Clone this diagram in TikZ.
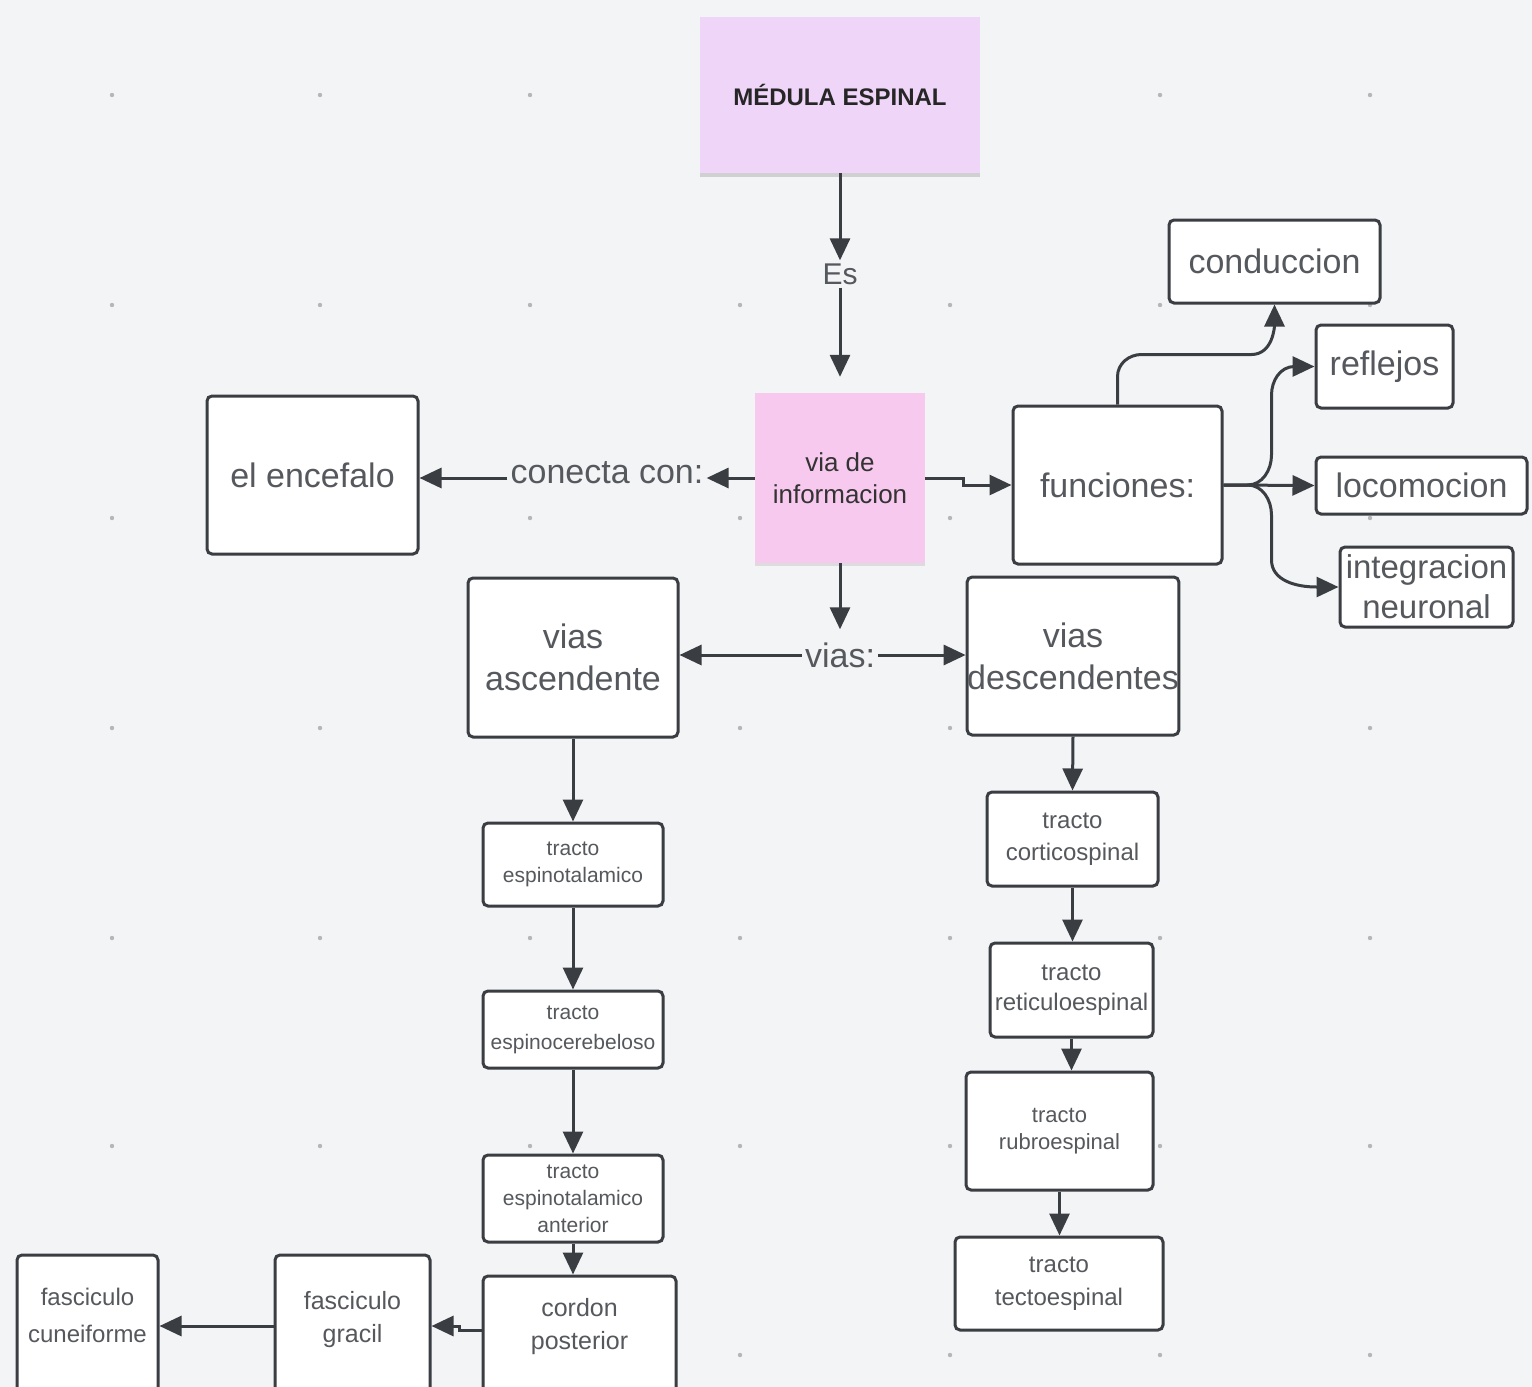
\documentclass[tikz,border=0pt]{standalone}
\usepackage{fontspec}
\setmainfont{Liberation Sans}
\usetikzlibrary{arrows.meta,shadows,calc}
\definecolor{bg}{HTML}{F3F4F6}
\definecolor{dotc}{HTML}{B4B6BA}
\definecolor{edge}{HTML}{3A3D42}
\definecolor{txt}{HTML}{55585C}
\definecolor{lav}{HTML}{EFD6F8}
\definecolor{pinkv}{HTML}{F7C9EF}
\newcommand\upbox[2]{\raisebox{#1}[0pt][0pt]{\begin{tabular}{@{}c@{}}#2\end{tabular}}}
\tikzset{
  box/.style={draw=edge, line width=3pt, rounded corners=5pt, fill=white, inner sep=0pt, align=center, text=txt},
  big/.style={font=\fontsize{34}{42}\selectfont},
  mid/.style={font=\fontsize{26}{32}\selectfont},
  sml/.style={font=\fontsize{22}{27}\selectfont},
  lbl/.style={text=txt, inner sep=3pt, font=\fontsize{34}{40}\selectfont},
  arr/.style={draw=edge, line width=3pt, -{Triangle[length=22pt,width=20pt]}},
  sticky/.style={inner sep=0pt, align=center, draw=none}
}
\begin{document}
\begin{tikzpicture}[x=1pt,y=-1pt]
\useasboundingbox (0,0) rectangle (1532,1387);
\fill[bg] (0,0) rectangle (1532,1387);
\foreach \xx in {112,320,530,740,950,1160,1370}
  \foreach \yy in {95,305,518,728,938,1146,1355}
    \fill[dotc] (\xx,\yy) circle (2.2);

% sticky notes
\node[sticky, fill=lav, minimum width=280, minimum height=156,
  drop shadow={shadow xshift=0pt, shadow yshift=-4pt, opacity=.3},
  font=\fontsize{24}{28}\selectfont\bfseries, text=black!85] (med) at (840,95) {MÉDULA ESPINAL};
\node[sticky, fill=pinkv, minimum width=170, minimum height=170,
  drop shadow={shadow xshift=0pt, shadow yshift=-3pt, opacity=.2},
  font=\fontsize{26}{32}\selectfont, text=black!80] (via) at (840,478) {via de\\informacion};

% labels
\node[lbl, font=\fontsize{30}{36}\selectfont] (es) at (840,274) {Es};
\node[lbl] (con) at (607,473) {conecta con:};
\node[lbl] (vias) at (840,655) {vias:};

% boxes
\node[box, big, minimum width=211, minimum height=158] (enc) at (312.5,475) {el encefalo};
\node[box, big, minimum width=209, minimum height=158] (fun) at (1117.5,485) {funciones:};
\node[box, big, minimum width=211, minimum height=83] (cond) at (1274.5,261.5) {conduccion};
\node[box, big, minimum width=137, minimum height=83] (refl) at (1384.5,366.5) {reflejos};
\node[box, big, minimum width=211, minimum height=57] (loco) at (1421.5,485.5) {locomocion};
\node[box, big, minimum width=173, minimum height=80, font=\fontsize{33}{40}\selectfont] (integ) at (1426.5,587) {integracion\\neuronal};

\node[box, big, minimum width=210, minimum height=159] (asc) at (573,657.5) {vias\\ascendente};
\node[box, big, minimum width=210, minimum height=158] (desc) at (1073,656) {vias\\descendentes};

\node[box, sml, minimum width=180, minimum height=83, font=\fontsize{21}{27}\selectfont] (t1) at (573,864.5) {tracto\\espinotalamico};
\node[box, sml, minimum width=180, minimum height=77, font=\fontsize{21}{30}\selectfont] (t2) at (573,1029.5) {tracto\\espinocerebeloso};
\node[box, sml, minimum width=180, minimum height=87, font=\fontsize{21}{27}\selectfont] (t3) at (573,1198.5) {tracto\\espinotalamico\\anterior};
\node[box, mid, minimum width=193, minimum height=122, font=\fontsize{25}{33}\selectfont] (cord) at (579.5,1337) {\upbox{4pt}{cordon\\posterior}};
\node[box, mid, minimum width=155, minimum height=142, font=\fontsize{25}{33}\selectfont] (grac) at (352.5,1326) {\upbox{0pt}{fasciculo\\gracil}};
\node[box, mid, minimum width=141, minimum height=142, font=\fontsize{24}{37}\selectfont] (cune) at (87.5,1326) {\upbox{3.5pt}{fasciculo\\cuneiforme}};

\node[box, mid, minimum width=171, minimum height=94, font=\fontsize{24}{32}\selectfont] (d1) at (1072.5,839) {tracto\\corticospinal};
\node[box, mid, minimum width=163, minimum height=94, font=\fontsize{24}{30}\selectfont] (d2) at (1071.5,990) {tracto\\reticuloespinal};
\node[box, mid, minimum width=187, minimum height=118, font=\fontsize{22}{27}\selectfont] (d3) at (1059.5,1131) {tracto\\rubroespinal};
\node[box, mid, minimum width=208, minimum height=93, font=\fontsize{24}{33}\selectfont] (d4) at (1059,1283.5) {tracto\\tectoespinal};

% connectors
\draw[arr] (med.south) -- (es.north);
\draw[arr, shorten >=16pt] (es.south) -- (via.north);
\draw[arr] (via.west) -- (via.west -| con.east);
\draw[arr] (con.west |- via.west) -- (via.west -| enc.east);
\draw[arr] (via.east) -- ++(38,0) |- (fun.west);

\draw[arr] (fun.north) -- ++(0,-28) to[out=90,in=180] ++(24,-22) -- ++(110,0) to[out=0,in=-90] (cond.south);
\draw[arr] (fun.east) -- ++(24,0) to[out=0,in=-90] ++(24,-30) -- ++(0,-60) to[out=90,in=180] ($(refl.west)+(-20,0)$) -- (refl.west);
\draw[arr] (fun.east) -- (loco.west);
\draw[arr] (fun.east) -- ++(24,0) to[out=0,in=90] ++(24,30) -- ++(0,45) to[out=-90,in=180] ($(integ.west)+(-22,0)$) -- (integ.west);

\draw[arr, shorten >=10pt] (via.south) -- (vias.north);
\draw[arr] (vias.west) -- (vias.west -| asc.east);
\draw[arr] (vias.east) -- (vias.east -| desc.west);

\draw[arr] (asc.south) -- (t1.north);
\draw[arr] (t1.south) -- (t2.north);
\draw[arr] (t2.south) -- (t3.north);
\draw[arr] (t3.south) -- (t3.south |- cord.north);
\draw[arr] (cord.west |- 0,1330) -- ++(-22,0) |- (grac.east);
\draw[arr] (grac.west) -- (cune.east);

\draw[arr] (desc.south) -- (d1.north);
\draw[arr] (d1.south) -- (d1.south |- d2.north);
\draw[arr] (d2.south) -- (d2.south |- d3.north);
\draw[arr] (d3.south) -- (d3.south |- d4.north);
\end{tikzpicture}
\end{document}
